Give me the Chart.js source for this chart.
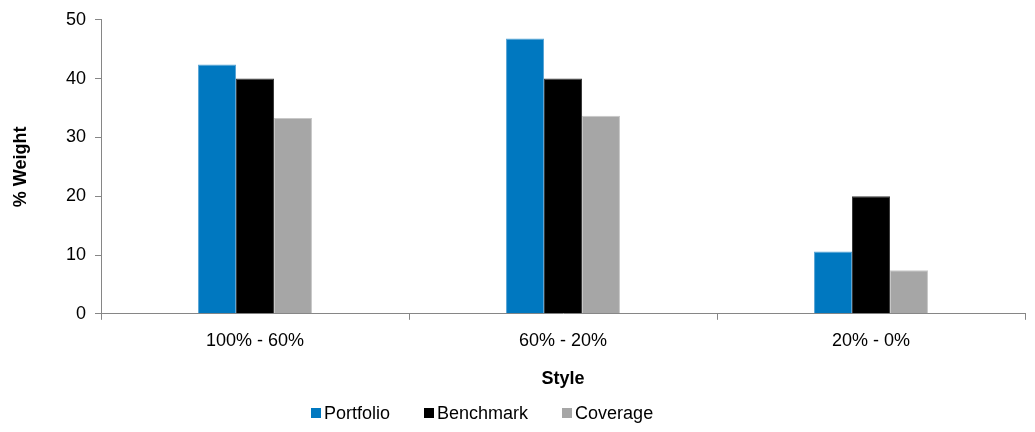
<!DOCTYPE html>
<html>
<head>
<meta charset="utf-8">
<script src="https://cdn.jsdelivr.net/npm/chart.js@4/dist/chart.umd.min.js"></script>
<style>
  html, body { margin: 0; padding: 0; background: #ffffff; }
  #wrap { position: relative; width: 1035px; height: 432px; }
  #chart { position: absolute; left: 0; top: 0; }
  #legend {
    position: absolute; left: 311px; top: 402px;
    display: flex; align-items: center;
    font-family: "Liberation Sans", Arial, sans-serif; font-size: 18px; color: #000;
    line-height: 22px; white-space: nowrap;
  }
  .item { display: flex; align-items: center; margin-right: 34px; }
  .item:last-child { margin-right: 0; }
  .swatch { width: 10px; height: 10px; margin-right: 3px; }
</style>
</head>
<body>
<div id="wrap">
  <canvas id="chart" width="1035" height="432"></canvas>
  <div id="legend"></div>
</div>
<script>
// Style buckets and weights (%)
const categories = ['100% - 60%', '60% - 20%', '20% - 0%'];
const portfolio = [42.4, 46.8, 10.6];
const benchmark = [40, 40, 20];
const coverage = [33.3, 33.7, 7.4];
const yTicks = [0, 10, 20, 30, 40, 50];

const FONT = '"Liberation Sans", Arial, sans-serif';
const AXIS = '#868686';

const series = [
  { label: 'Portfolio', data: portfolio, fill: '#0078C0', edge: '#5AA6D6' },
  { label: 'Benchmark', data: benchmark, fill: '#000000', edge: '#3A3A3A' },
  { label: 'Coverage', data: coverage, fill: '#A6A6A6', edge: '#C8C8C8' }
];

const chart = new Chart(document.getElementById('chart'), {
  type: 'bar',
  data: {
    labels: categories,
    datasets: series.map(s => ({
      label: s.label,
      data: s.data,
      backgroundColor: s.fill,
      borderColor: s.edge,
      borderWidth: 1,
      borderSkipped: 'bottom',
      barPercentage: 1,
      categoryPercentage: 0.37
    }))
  },
  options: {
    responsive: false,
    animation: false,
    devicePixelRatio: 1,
    layout: { padding: { top: 6, right: 10, bottom: 38, left: 0 } },
    plugins: { legend: { display: false }, tooltip: { enabled: false } },
    scales: {
      x: {
        grid: { display: true, drawOnChartArea: false, drawTicks: true, tickLength: 6, color: AXIS, offset: true },
        border: { display: true, color: AXIS, width: 1 },
        ticks: { color: '#000', font: { family: FONT, size: 18 }, padding: 10, maxRotation: 0 },
        title: { display: true, text: 'Style', color: '#000', font: { family: FONT, size: 18, weight: 'bold' }, padding: { top: 7, bottom: 4 } }
      },
      y: {
        min: 0, max: 50,
        afterBuildTicks: axis => { axis.ticks = yTicks.map(v => ({ value: v })); },
        afterFit: axis => { axis.width = 101; },
        grid: { display: true, drawOnChartArea: false, drawTicks: true, tickLength: 6, color: AXIS },
        border: { display: true, color: AXIS, width: 1 },
        ticks: { color: '#000', font: { family: FONT, size: 18 }, padding: 9 },
        title: { display: true, text: '% Weight', color: '#000', font: { family: FONT, size: 18, weight: 'bold' }, padding: { top: 10, bottom: 0 } }
      }
    }
  }
});

// Legend built from the chart's datasets
const legend = document.getElementById('legend');
chart.data.datasets.forEach(ds => {
  const item = document.createElement('div');
  item.className = 'item';
  const sw = document.createElement('span');
  sw.className = 'swatch';
  sw.style.background = ds.backgroundColor;
  const txt = document.createElement('span');
  txt.textContent = ds.label;
  item.appendChild(sw);
  item.appendChild(txt);
  legend.appendChild(item);
});
</script>
</body>
</html>
